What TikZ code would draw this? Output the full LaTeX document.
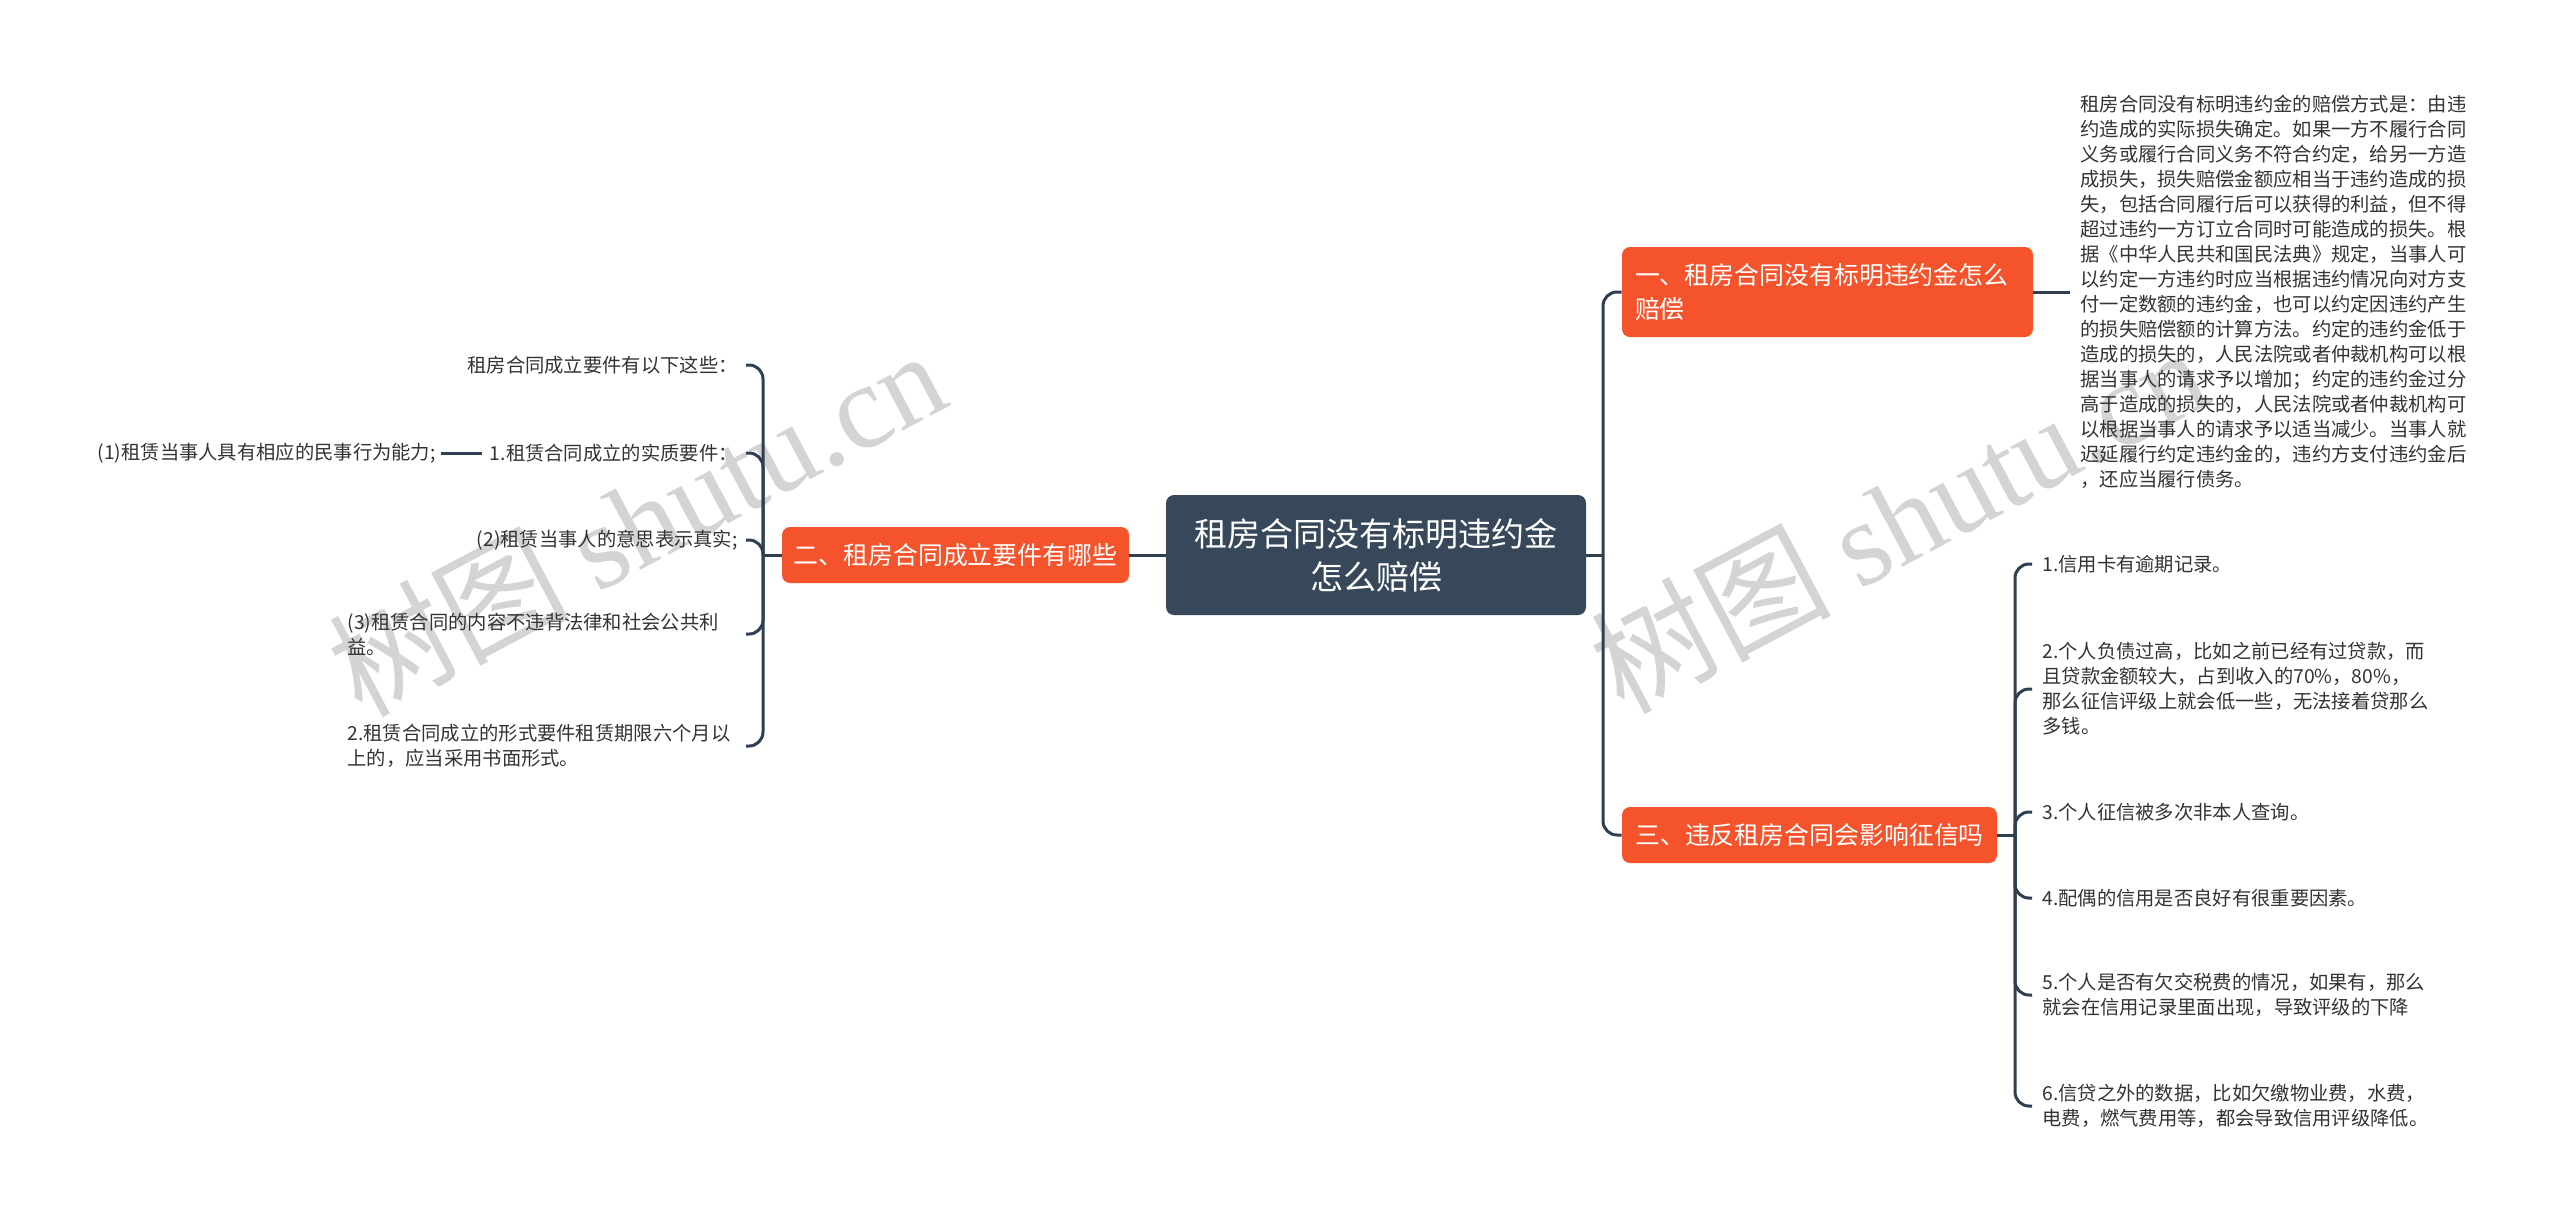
\documentclass[tikz,border=0pt]{standalone}
\usepackage{fontspec}
\setmainfont{Noto Sans CJK SC}
\newfontfamily\wmlatin{Liberation Serif}
\definecolor{brorange}{HTML}{F4532B}
\definecolor{rootc}{HTML}{364859}
\definecolor{linec}{HTML}{2F3F4F}
\definecolor{txt}{HTML}{333333}
\definecolor{wmc}{HTML}{D4D4D4}
\begin{document}
\begin{tikzpicture}[x=0.5pt,y=-0.5pt,
  conn/.style={draw=linec, line width=1.5pt},
  elbow/.style={conn, rounded corners=7pt},
  rootbox/.style={fill=rootc, text=white, rounded corners=4pt, minimum width=210pt, minimum height=60pt, align=center, inner sep=0pt, font=\fontsize{16.5pt}{21.5pt}\selectfont},
  branchbox/.style={fill=brorange, text=white, rounded corners=4pt, inner sep=0pt, font=\fontsize{12.45pt}{17pt}\selectfont},
  leaf/.style={text=txt, inner ysep=2pt, font=\fontsize{9.65pt}{12.5pt}\selectfont},
  rleaf/.style={leaf, anchor=west, align=left, inner xsep=5pt},
  lleaf/.style={leaf, anchor=east, align=right, inner xsep=4pt},
  wmark/.style={text=wmc, rotate=28, inner sep=0pt, font=\fontsize{60pt}{60pt}\selectfont}
]
\useasboundingbox (0,0) rectangle (2560,1223);
\fill[white] (0,0) rectangle (2560,1223);

% watermarks
\node[wmark] (wm1) at (636,521) {树图 {\wmlatin shutu.cn}};
\node[wmark] (wm2) at (1898,518) {树图 {\wmlatin shutu.cn}};

% root and branches
\node[rootbox] (root) at (1376,555) {租房合同没有标明违约金\\怎么赔偿};
\node[branchbox, text width=192.5pt, inner xsep=6.5pt, minimum height=45pt, align=left] (b1) at (1827.5,292) {一、租房合同没有标明违约金怎么\\赔偿};
\node[branchbox, minimum width=173.5pt, minimum height=28pt] (b2) at (955.5,555) {二、租房合同成立要件有哪些};
\node[branchbox, minimum width=187.5pt, minimum height=28pt] (b3) at (1809.5,835) {三、违反租房合同会影响征信吗};

% branch 1 text
\node[rleaf] (t1) at (2070,292) {租房合同没有标明违约金的赔偿方式是：由违\\
约造成的实际损失确定。如果一方不履行合同\\
义务或履行合同义务不符合约定，给另一方造\\
成损失，损失赔偿金额应相当于违约造成的损\\
失，包括合同履行后可以获得的利益，但不得\\
超过违约一方订立合同时可能造成的损失。根\\
据《中华人民共和国民法典》规定，当事人可\\
以约定一方违约时应当根据违约情况向对方支\\
付一定数额的违约金，也可以约定因违约产生\\
的损失赔偿额的计算方法。约定的违约金低于\\
造成的损失的，人民法院或者仲裁机构可以根\\
据当事人的请求予以增加；约定的违约金过分\\
高于造成的损失的，人民法院或者仲裁机构可\\
以根据当事人的请求予以适当减少。当事人就\\
迟延履行约定违约金的，违约方支付违约金后\\
，还应当履行债务。};

% branch 2 children
\node[lleaf] (l0) at (746,365) {租房合同成立要件有以下这些：};
\node[lleaf] (l1) at (746,453) {1.租赁合同成立的实质要件：};
\node[leaf, anchor=east, inner xsep=2.5pt] (l1a) at (441,453) {(1)租赁当事人具有相应的民事行为能力;};
\node[lleaf] (l2) at (746,540) {(2)租赁当事人的意思表示真实;};
\node[lleaf, align=left, text width=195pt] (l3) at (746,634) {(3)租赁合同的内容不违背法律和社会公共利\\益。};
\node[lleaf, align=left, text width=195pt] (l4) at (746,746) {2.租赁合同成立的形式要件租赁期限六个月以\\上的，应当采用书面形式。};

% branch 3 children
\node[rleaf] (c1) at (2032,564) {1.信用卡有逾期记录。};
\node[rleaf] (c2) at (2032,689) {2.个人负债过高，比如之前已经有过贷款，而\\且贷款金额较大，占到收入的70\%，80\%，\\那么征信评级上就会低一些，无法接着贷那么\\多钱。};
\node[rleaf] (c3) at (2032,812) {3.个人征信被多次非本人查询。};
\node[rleaf] (c4) at (2032,898) {4.配偶的信用是否良好有很重要因素。};
\node[rleaf] (c5) at (2032,995) {5.个人是否有欠交税费的情况，如果有，那么\\就会在信用记录里面出现，导致评级的下降};
\node[rleaf] (c6) at (2032,1106) {6.信贷之外的数据，比如欠缴物业费，水费，\\电费，燃气费用等，都会导致信用评级降低。};

% junctions
\coordinate (jr) at (1603,555);
\coordinate (jl) at (763,555);
\coordinate (j3) at (2015,835);

% connectors
\draw[conn] (root.east) -- (jr);
\draw[elbow] (jr) |- (b1.west);
\draw[elbow] (jr) |- (b3.west);
\draw[conn] (root.west) -- (b2.east);
\draw[conn] (b2.west) -- (jl);
\foreach \n in {l0,l1,l2,l3,l4} \draw[elbow] (jl) |- (\n.east);
\draw[conn] (l1.west) -- (l1a.east);
\draw[conn] (b1.east) -- (t1.west);
\draw[conn] (b3.east) -- (j3);
\foreach \n in {c1,c2,c3,c4,c5,c6} \draw[elbow] (j3) |- (\n.west);
\end{tikzpicture}
\end{document}
